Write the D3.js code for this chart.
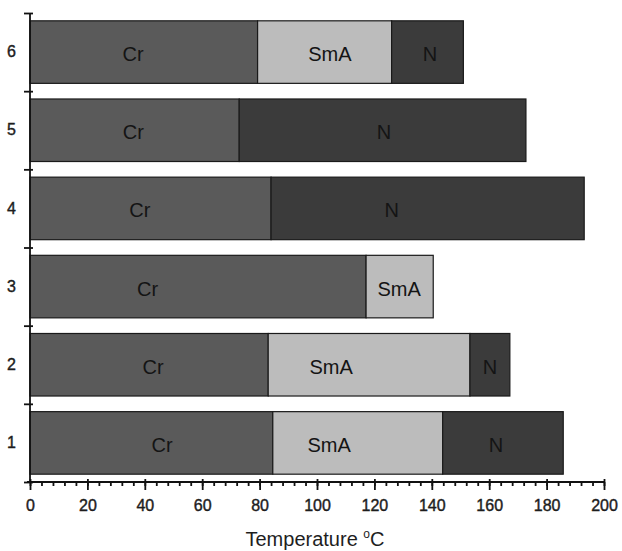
<!DOCTYPE html>
<meta charset="utf-8">
<style>
body { margin: 0; background: #fff; }
text { font-family: "Liberation Sans", Arial, sans-serif; fill: #1e1e1e; }
.axis path, .axis line { stroke: #111; stroke-width: 1.8px; }
.seg { stroke: #1a1a1a; stroke-width: 1.2px; }
</style>
<svg width="622" height="551" id="chart"></svg>
<script src="https://cdn.jsdelivr.net/npm/d3@7"></script>
<script>

// compounds, top to bottom as drawn
var compounds = ["6", "5", "4", "3", "2", "1"];
// transition temperatures (degC): Cr -> next, SmA -> next, N -> isotropic (null = no phase)
var crEnd  = [79.3, 72.9, 84.0, 117.1, 83.0, 84.6];
var smaEnd = [126.0, null, null, 140.5, 153.3, 143.8];
var nEnd   = [151.0, 172.8, 193.1, null, 167.2, 185.8];
// where the phase names sit along each bar (degC)
var crLabelAt  = [35.9, 36.0, 38.3, 41.0, 42.9, 46.0];
var smaLabelAt = [104.5, null, null, 128.6, 104.9, 104.2];
var nLabelAt   = [139.4, 123.3, 126.0, null, 160.3, 162.4];
var xTicks = [0, 20, 40, 60, 80, 100, 120, 140, 160, 180, 200];

var phaseColor = {Cr: "#5a5a5a", SmA: "#bcbcbc", N: "#3b3b3b"};

var svg = d3.select("svg#chart"),
    plotL = 30, plotR = 604, plotT = 13, plotB = 482;

var x = d3.scaleLinear().domain([0, 200]).range([plotL, plotR]),
    y = d3.scaleBand().domain(compounds).range([plotT, plotB]).paddingInner(0.2).paddingOuter(0.1),
    yEdge = d3.scaleLinear().domain([0, compounds.length]).range([plotB, plotT]);

// build segments
var segs = [];
compounds.forEach(function(c, i) {
  var start = 0;
  [["Cr", crEnd[i], crLabelAt[i]], ["SmA", smaEnd[i], smaLabelAt[i]], ["N", nEnd[i], nLabelAt[i]]].forEach(function(p) {
    if (p[1] == null) return;
    segs.push({id: c, phase: p[0], x0: start, x1: p[1], at: p[2]});
    start = p[1];
  });
});

svg.append("g").selectAll("rect")
    .data(segs)
  .enter().append("rect")
    .attr("class", "seg")
    .attr("x", function(d) { return x(d.x0); })
    .attr("y", function(d) { return y(d.id); })
    .attr("width", function(d) { return x(d.x1) - x(d.x0); })
    .attr("height", y.bandwidth())
    .attr("fill", function(d) { return phaseColor[d.phase]; });

svg.append("g").selectAll("text")
    .data(segs)
  .enter().append("text")
    .attr("x", function(d) { return x(d.at); })
    .attr("y", function(d) { return y(d.id) + y.bandwidth() / 2 + 2; })
    .attr("text-anchor", "middle")
    .attr("dy", "0.35em")
    .style("font-size", "20px")
    .style("fill", "#141414")
    .text(function(d) { return d.phase; });

// x axis: major every 20, minor every 4
var xAxis = svg.append("g")
    .attr("class", "axis")
    .attr("transform", "translate(0," + plotB + ")");
xAxis.call(d3.axisBottom(x).tickValues(d3.range(0, 201, 4)).tickSize(4).tickFormat(""));
xAxis.append("g")
    .call(d3.axisBottom(x).tickValues(xTicks).tickSize(8).tickPadding(10))
    .call(function(g) { g.select(".domain").remove(); })
    .call(function(g) { g.selectAll(".tick line").attr("y1", -3); })
    .selectAll("text")
      .style("font-size", "16px")
      .style("stroke", "#1a1a1a")
      .style("stroke-width", "0.4px")
      .attr("fill", "#1a1a1a");
xAxis.select(".domain").attr("d", "M" + (plotL - 3) + ",0H" + plotR);

// y axis: ticks at the bar boundaries, labels in the middle of each bar
var yAxis = svg.append("g")
    .attr("class", "axis")
    .attr("transform", "translate(" + plotL + ",0)");
yAxis.call(d3.axisLeft(yEdge).ticks(compounds.length).tickSize(6).tickFormat(""));
yAxis.selectAll(".tick line").attr("x2", 3).attr("x1", -6);
yAxis.select(".domain").attr("d", "M0," + plotT + "V" + plotB);
yAxis.append("g")
    .call(d3.axisLeft(y).tickSize(0).tickPadding(14))
    .call(function(g) { g.select(".domain").remove(); })
    .selectAll("text")
      .style("font-size", "16px")
      .style("stroke", "#1a1a1a")
      .style("stroke-width", "0.4px")
      .attr("fill", "#1a1a1a");

// axis title
var title = svg.append("text")
    .attr("x", (plotL + plotR) / 2 - 2)
    .attr("y", 546)
    .attr("text-anchor", "middle")
    .style("font-size", "20px");
title.append("tspan").text("Temperature ");
title.append("tspan").attr("dy", -8).style("font-size", "12px").text("o");
title.append("tspan").attr("dy", 8).text("C");

</script>
